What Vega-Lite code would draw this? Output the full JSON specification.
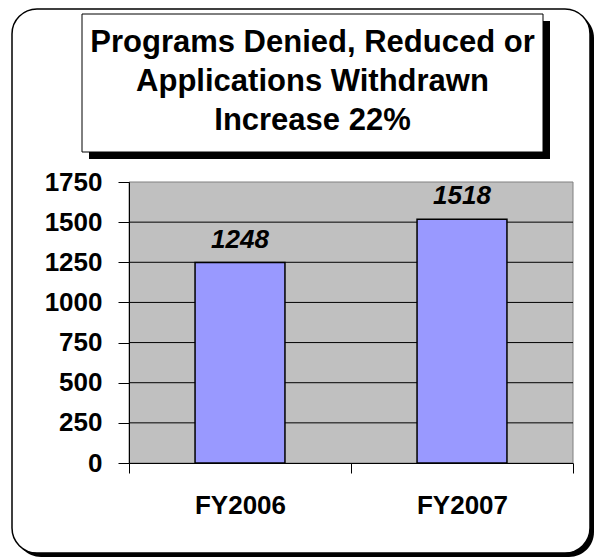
{
  "$schema": "https://vega.github.io/schema/vega-lite/v6.json",
  "width": 444,
  "height": 281,
  "autosize": {"type": "none"},
  "padding": {"left": 129, "top": 182, "right": 21, "bottom": 94},
  "background": "white",
  "config": {"view": {"stroke": null}, "font": "Liberation Sans"},
  "data": {"values": [
    {"year": "FY2006", "value": 1248},
    {"year": "FY2007", "value": 1518}
  ]},
  "layer": [
    {
      "data": {"values": [{}]},
      "mark": {"type": "rect", "fill": "black", "cornerRadius": 25},
      "encoding": {"x": {"value": -113}, "x2": {"value": 465}, "y": {"value": -169}, "y2": {"value": 375}}
    },
    {
      "data": {"values": [{}]},
      "mark": {"type": "rect", "fill": "white", "stroke": "black", "strokeWidth": 1.5, "cornerRadius": 25},
      "encoding": {"x": {"value": -117}, "x2": {"value": 461}, "y": {"value": -173}, "y2": {"value": 371}}
    },
    {
      "data": {"values": [{}]},
      "mark": {"type": "rect", "fill": "black"},
      "encoding": {"x": {"value": -40}, "x2": {"value": 421}, "y": {"value": -161}, "y2": {"value": -23}}
    },
    {
      "data": {"values": [{}]},
      "mark": {"type": "rect", "fill": "white", "stroke": "black", "strokeWidth": 1},
      "encoding": {"x": {"value": -47}, "x2": {"value": 414}, "y": {"value": -168}, "y2": {"value": -30}}
    },
    {
      "data": {"values": [{}]},
      "mark": {"type": "text", "font": "Liberation Sans", "fontSize": 31, "fontWeight": "bold", "color": "black", "lineHeight": 39, "align": "center", "baseline": "alphabetic"},
      "encoding": {
        "x": {"value": 183.5},
        "y": {"value": -130},
        "text": {"value": ["Programs Denied, Reduced or", "Applications Withdrawn", "Increase 22%"]}
      }
    },
    {
      "data": {"values": [{}]},
      "mark": {"type": "rect", "fill": "#C0C0C0", "stroke": "#808080", "strokeWidth": 1},
      "encoding": {"x": {"value": 0}, "x2": {"value": "width"}, "y": {"value": 0}, "y2": {"value": "height"}}
    },
    {
      "data": {"values": [{"v": 250}, {"v": 500}, {"v": 750}, {"v": 1000}, {"v": 1250}, {"v": 1500}]},
      "mark": {"type": "rule", "color": "black", "strokeWidth": 1},
      "encoding": {
        "y": {
          "field": "v", "type": "quantitative",
          "scale": {"domain": [0, 1750], "nice": false},
          "axis": {
            "title": null, "values": [0, 250, 500, 750, 1000, 1250, 1500, 1750], "format": "d", "grid": false,
            "tickSize": 11, "tickColor": "black", "domainColor": "black", "labelFont": "Liberation Sans",
            "labelFontSize": 26, "labelFontWeight": "bold", "labelColor": "black", "labelPadding": 16, "zindex": 1
          }
        }
      }
    },
    {
      "mark": {"type": "bar", "fill": "#9999FF", "stroke": "black", "strokeWidth": 1.5, "width": {"band": 0.405}},
      "encoding": {
        "x": {
          "field": "year", "type": "nominal",
          "scale": {"paddingInner": 0, "paddingOuter": 0},
          "axis": {
            "title": null, "labelAngle": 0, "tickBand": "extent", "tickSize": 10, "tickColor": "black",
            "domainColor": "black", "labelFont": "Liberation Sans", "labelFontSize": 26, "labelFontWeight": "bold",
            "labelColor": "black", "labelPadding": 19, "zindex": 1
          }
        },
        "y": {
          "field": "value", "type": "quantitative",
          "scale": {"domain": [0, 1750], "nice": false},
          "axis": {
            "title": null, "values": [0, 250, 500, 750, 1000, 1250, 1500, 1750], "format": "d", "grid": false,
            "tickSize": 11, "tickColor": "black", "domainColor": "black", "labelFont": "Liberation Sans",
            "labelFontSize": 26, "labelFontWeight": "bold", "labelColor": "black", "labelPadding": 16, "zindex": 1
          }
        }
      }
    },
    {
      "mark": {"type": "text", "fontSize": 26, "fontWeight": "bold", "fontStyle": "italic", "font": "Liberation Sans", "color": "black", "baseline": "alphabetic", "dy": -15},
      "encoding": {
        "x": {"field": "year", "type": "nominal"},
        "y": {"field": "value", "type": "quantitative"},
        "text": {"field": "value", "type": "quantitative", "format": "d"}
      }
    }
  ]
}
